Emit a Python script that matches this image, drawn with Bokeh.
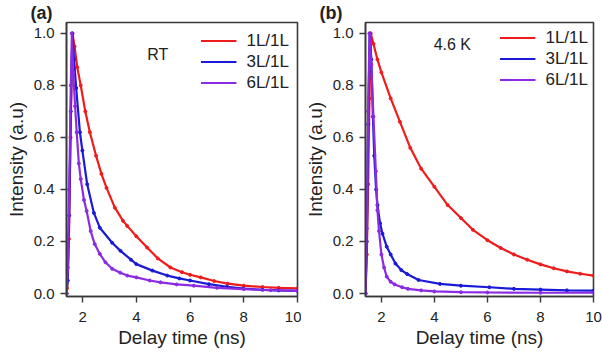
from bokeh.plotting import figure
from bokeh.layouts import row
from bokeh.models import (FixedTicker, PrintfTickFormatter, Legend, LegendItem,
                          Label, Range1d, Title)
from bokeh.embed import file_html
from bokeh.resources import INLINE

# ---------------- data ----------------
series_names = ["1L/1L", "3L/1L", "6L/1L"]
panel_tags = ["(a)", "(b)"]
panel_notes = ["RT", "4.6 K"]
x_ticks = [2, 4, 6, 8, 10]
y_ticks = [0.0, 0.2, 0.4, 0.6, 0.8, 1.0]

# (a) RT
rt_t_1L = [1.40, 1.42, 1.49, 1.55, 1.62, 1.70, 1.80, 1.93, 2.10, 2.27, 2.50, 2.70, 2.89,
           3.20, 3.50, 3.66, 4.00, 4.40, 4.80, 5.27, 5.70, 6.00, 6.40, 6.90, 7.40, 8.00,
           8.70, 9.30, 10.0]
rt_v_1L = [0.0, 0.02, 0.21, 0.60, 1.00, 0.95, 0.87, 0.80, 0.70, 0.62, 0.53, 0.46, 0.406,
           0.33, 0.28, 0.26, 0.22, 0.177, 0.135, 0.10, 0.082, 0.072, 0.062, 0.048, 0.038,
           0.030, 0.025, 0.022, 0.020]

rt_t_3L = [1.40, 1.45, 1.50, 1.56, 1.62, 1.68, 1.76, 1.90, 1.99, 2.17, 2.42, 2.64, 3.10,
           3.41, 3.80, 4.00, 4.60, 5.15, 5.60, 6.00, 6.70, 7.38, 8.00, 8.70, 9.30, 10.0]
rt_v_3L = [0.0, 0.05, 0.30, 0.70, 1.00, 0.90, 0.79, 0.62, 0.55, 0.42, 0.31, 0.253, 0.195,
           0.164, 0.13, 0.113, 0.088, 0.069, 0.058, 0.050, 0.036, 0.026, 0.019, 0.014,
           0.012, 0.010]

rt_t_6L = [1.40, 1.45, 1.50, 1.56, 1.60, 1.65, 1.72, 1.78, 1.86, 1.93, 2.05, 2.15, 2.30,
           2.45, 2.64, 2.85, 3.10, 3.40, 3.66, 4.00, 4.50, 4.90, 5.50, 6.14, 7.00, 8.00,
           9.00, 10.0]
rt_v_6L = [0.0, 0.10, 0.40, 0.80, 1.00, 0.85, 0.72, 0.62, 0.50, 0.44, 0.36, 0.317, 0.24,
           0.19, 0.152, 0.12, 0.095, 0.08, 0.069, 0.062, 0.050, 0.043, 0.035, 0.030,
           0.022, 0.017, 0.013, 0.010]

# (b) 4.6 K
lt_t_1L = [1.40, 1.45, 1.50, 1.55, 1.60, 1.70, 1.85, 2.00, 2.35, 2.70, 3.09, 3.50, 4.00,
           4.50, 5.00, 5.45, 6.00, 6.50, 7.00, 7.50, 8.00, 8.50, 9.00, 9.50, 10.0]
lt_v_1L = [0.0, 0.15, 0.42, 0.75, 1.00, 0.96, 0.90, 0.85, 0.75, 0.66, 0.56, 0.48, 0.41,
           0.34, 0.29, 0.245, 0.205, 0.175, 0.15, 0.13, 0.112, 0.097, 0.085, 0.076, 0.069]

lt_t_3L = [1.40, 1.45, 1.50, 1.56, 1.62, 1.68, 1.73, 1.80, 1.85, 1.95, 2.04, 2.20, 2.35,
           2.53, 2.75, 2.97, 3.40, 4.21, 5.00, 6.07, 7.00, 8.00, 9.00, 10.0]
lt_v_3L = [0.0, 0.20, 0.65, 1.00, 0.90, 0.68, 0.53, 0.40, 0.34, 0.27, 0.23, 0.18, 0.15,
           0.115, 0.09, 0.075, 0.052, 0.037, 0.030, 0.024, 0.018, 0.015, 0.012, 0.011]

lt_t_6L = [1.40, 1.45, 1.50, 1.55, 1.62, 1.70, 1.79, 1.85, 1.91, 2.00, 2.10, 2.20, 2.35,
           2.50, 2.78, 3.00, 3.50, 4.00, 5.00, 6.00, 8.00, 10.0]
lt_v_6L = [0.0, 0.25, 0.70, 1.00, 0.88, 0.68, 0.47, 0.32, 0.24, 0.15, 0.10, 0.065, 0.045,
           0.035, 0.024, 0.018, 0.012, 0.008, 0.005, 0.004, 0.003, 0.003]

colors = ["#f01c1c", "#1a1ad8", "#8b2be2"]

FONT = "Liberation Sans"
TXT = "#222222"


def make_panel(width, b_left, b_right, data, tag, tag_offset, note, note_x, note_y,
               leg_margin):
    p = figure(width=width, height=358, output_backend="svg", toolbar_location=None,
               x_range=Range1d(1.4, 10.0), y_range=Range1d(-0.0115, 1.042),
               min_border_left=b_left, min_border_right=b_right,
               min_border_top=20, min_border_bottom=62)
    p.background_fill_color = "white"
    p.border_fill_color = "white"
    p.outline_line_color = "#3a3a3a"
    p.outline_line_width = 1.6
    p.grid.visible = False

    p.title = Title(text=tag, align="left", offset=tag_offset, standoff=0,
                    text_font=FONT, text_font_size="18px", text_font_style="bold",
                    text_color=TXT, text_line_height=1.0)

    for ax in (p.xaxis[0], p.yaxis[0]):
        ax.axis_line_color = "#3a3a3a"
        ax.axis_line_width = 1.6
        ax.major_tick_line_color = "#3a3a3a"
        ax.major_tick_line_width = 1.4
        ax.major_tick_out = 6
        ax.major_tick_in = 0
        ax.minor_tick_line_color = None
        ax.major_label_text_font = FONT
        ax.major_label_text_font_size = "15px"
        ax.major_label_text_color = TXT
        ax.axis_label_text_font = FONT
        ax.axis_label_text_font_size = "19px"
        ax.axis_label_text_font_style = "normal"
        ax.axis_label_text_color = TXT

    p.xaxis.ticker = FixedTicker(ticks=x_ticks)
    p.yaxis.ticker = FixedTicker(ticks=y_ticks)
    p.yaxis.formatter = PrintfTickFormatter(format="%.1f")
    p.xaxis.axis_label = "Delay time (ns)"
    p.yaxis.axis_label = "Intensity (a.u)"
    p.xaxis.major_label_standoff = 9
    p.yaxis.major_label_standoff = 6
    p.xaxis.axis_label_standoff = 2
    p.yaxis.axis_label_standoff = 4

    items = []
    for (t, v), c, name in zip(data, colors, series_names):
        ln = p.line(t, v, line_color=c, line_width=2.2)
        p.scatter(t, v, size=3, marker="circle", fill_color=c, line_color=c)
        items.append(LegendItem(label=name, renderers=[ln]))

    leg = Legend(items=items, location="top_right", margin=leg_margin, padding=0,
                 spacing=0, glyph_width=36, glyph_height=21, label_height=21,
                 label_standoff=10, border_line_color=None,
                 background_fill_alpha=0.0, label_text_font=FONT,
                 label_text_font_size="17px", label_text_color=TXT)
    p.add_layout(leg)

    p.add_layout(Label(x=note_x, y=note_y, text=note, text_font=FONT,
                       text_font_size="16px", text_color=TXT,
                       text_baseline="middle"))
    return p


pa = make_panel(301, 66, 4,
                [(rt_t_1L, rt_v_1L), (rt_t_3L, rt_v_3L), (rt_t_6L, rt_v_6L)],
                panel_tags[0], -36, panel_notes[0], 4.41, 0.92, 8)
pb = make_panel(301, 62, 9,
                [(lt_t_1L, lt_v_1L), (lt_t_3L, lt_v_3L), (lt_t_6L, lt_v_6L)],
                panel_tags[1], -46, panel_notes[1], 3.97, 0.958, 5)

layout = row(pa, pb, spacing=0)
open("out.html", "w").write(file_html(layout, INLINE))
